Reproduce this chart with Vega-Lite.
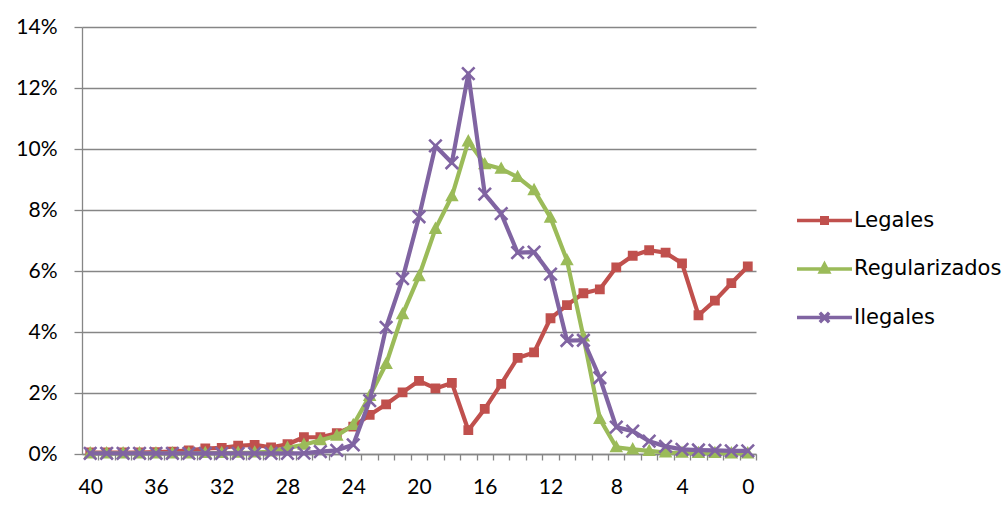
{
  "$schema": "https://vega.github.io/schema/vega-lite/v6.json",
  "autosize": {"type": "none"},
  "width": 674,
  "height": 427,
  "padding": {"left": 82, "top": 27, "right": 252, "bottom": 51},
  "background": "white",
  "config": {
    "view": {"stroke": null},
    "font": "Lato",
    "axis": {"labelFont": "Lato", "labelFontSize": 21, "labelColor": "black", "domainColor": "#868686", "tickColor": "#868686", "gridColor": "#868686", "domainWidth": 1.3, "tickWidth": 1.3, "gridWidth": 1.3, "title": null}
  },
  "data": {"values": [
    {"t":40,"s":"Legales","v":0.05},{"t":39,"s":"Legales","v":0.05},{"t":38,"s":"Legales","v":0.05},{"t":37,"s":"Legales","v":0.05},{"t":36,"s":"Legales","v":0.06},{"t":35,"s":"Legales","v":0.08},{"t":34,"s":"Legales","v":0.12},{"t":33,"s":"Legales","v":0.18},{"t":32,"s":"Legales","v":0.2},{"t":31,"s":"Legales","v":0.27},{"t":30,"s":"Legales","v":0.3},{"t":29,"s":"Legales","v":0.22},{"t":28,"s":"Legales","v":0.32},{"t":27,"s":"Legales","v":0.55},{"t":26,"s":"Legales","v":0.55},{"t":25,"s":"Legales","v":0.68},{"t":24,"s":"Legales","v":0.9},{"t":23,"s":"Legales","v":1.28},{"t":22,"s":"Legales","v":1.63},{"t":21,"s":"Legales","v":2.02},{"t":20,"s":"Legales","v":2.4},{"t":19,"s":"Legales","v":2.15},{"t":18,"s":"Legales","v":2.33},{"t":17,"s":"Legales","v":0.78},{"t":16,"s":"Legales","v":1.48},{"t":15,"s":"Legales","v":2.3},{"t":14,"s":"Legales","v":3.15},{"t":13,"s":"Legales","v":3.33},{"t":12,"s":"Legales","v":4.45},{"t":11,"s":"Legales","v":4.88},{"t":10,"s":"Legales","v":5.27},{"t":9,"s":"Legales","v":5.4},{"t":8,"s":"Legales","v":6.12},{"t":7,"s":"Legales","v":6.5},{"t":6,"s":"Legales","v":6.68},{"t":5,"s":"Legales","v":6.6},{"t":4,"s":"Legales","v":6.25},{"t":3,"s":"Legales","v":4.55},{"t":2,"s":"Legales","v":5.03},{"t":1,"s":"Legales","v":5.6},{"t":0,"s":"Legales","v":6.15},
    {"t":40,"s":"Regularizados","v":0.02},{"t":39,"s":"Regularizados","v":0.02},{"t":38,"s":"Regularizados","v":0.02},{"t":37,"s":"Regularizados","v":0.02},{"t":36,"s":"Regularizados","v":0.02},{"t":35,"s":"Regularizados","v":0.02},{"t":34,"s":"Regularizados","v":0.02},{"t":33,"s":"Regularizados","v":0.03},{"t":32,"s":"Regularizados","v":0.03},{"t":31,"s":"Regularizados","v":0.04},{"t":30,"s":"Regularizados","v":0.05},{"t":29,"s":"Regularizados","v":0.08},{"t":28,"s":"Regularizados","v":0.2},{"t":27,"s":"Regularizados","v":0.3},{"t":26,"s":"Regularizados","v":0.45},{"t":25,"s":"Regularizados","v":0.6},{"t":24,"s":"Regularizados","v":0.95},{"t":23,"s":"Regularizados","v":1.9},{"t":22,"s":"Regularizados","v":2.95},{"t":21,"s":"Regularizados","v":4.58},{"t":20,"s":"Regularizados","v":5.83},{"t":19,"s":"Regularizados","v":7.38},{"t":18,"s":"Regularizados","v":8.45},{"t":17,"s":"Regularizados","v":10.25},{"t":16,"s":"Regularizados","v":9.5},{"t":15,"s":"Regularizados","v":9.35},{"t":14,"s":"Regularizados","v":9.08},{"t":13,"s":"Regularizados","v":8.65},{"t":12,"s":"Regularizados","v":7.75},{"t":11,"s":"Regularizados","v":6.35},{"t":10,"s":"Regularizados","v":3.85},{"t":9,"s":"Regularizados","v":1.15},{"t":8,"s":"Regularizados","v":0.22},{"t":7,"s":"Regularizados","v":0.15},{"t":6,"s":"Regularizados","v":0.1},{"t":5,"s":"Regularizados","v":0.05},{"t":4,"s":"Regularizados","v":0.04},{"t":3,"s":"Regularizados","v":0.03},{"t":2,"s":"Regularizados","v":0.03},{"t":1,"s":"Regularizados","v":0.02},{"t":0,"s":"Regularizados","v":0.02},
    {"t":40,"s":"Ilegales","v":0.02},{"t":39,"s":"Ilegales","v":0.02},{"t":38,"s":"Ilegales","v":0.02},{"t":37,"s":"Ilegales","v":0.02},{"t":36,"s":"Ilegales","v":0.02},{"t":35,"s":"Ilegales","v":0.02},{"t":34,"s":"Ilegales","v":0.02},{"t":33,"s":"Ilegales","v":0.02},{"t":32,"s":"Ilegales","v":0.02},{"t":31,"s":"Ilegales","v":0.02},{"t":30,"s":"Ilegales","v":0.02},{"t":29,"s":"Ilegales","v":0.02},{"t":28,"s":"Ilegales","v":0.02},{"t":27,"s":"Ilegales","v":0.03},{"t":26,"s":"Ilegales","v":0.08},{"t":25,"s":"Ilegales","v":0.12},{"t":24,"s":"Ilegales","v":0.3},{"t":23,"s":"Ilegales","v":1.75},{"t":22,"s":"Ilegales","v":4.15},{"t":21,"s":"Ilegales","v":5.75},{"t":20,"s":"Ilegales","v":7.78},{"t":19,"s":"Ilegales","v":10.1},{"t":18,"s":"Ilegales","v":9.55},{"t":17,"s":"Ilegales","v":12.47},{"t":16,"s":"Ilegales","v":8.52},{"t":15,"s":"Ilegales","v":7.88},{"t":14,"s":"Ilegales","v":6.6},{"t":13,"s":"Ilegales","v":6.62},{"t":12,"s":"Ilegales","v":5.9},{"t":11,"s":"Ilegales","v":3.72},{"t":10,"s":"Ilegales","v":3.73},{"t":9,"s":"Ilegales","v":2.5},{"t":8,"s":"Ilegales","v":0.88},{"t":7,"s":"Ilegales","v":0.75},{"t":6,"s":"Ilegales","v":0.42},{"t":5,"s":"Ilegales","v":0.25},{"t":4,"s":"Ilegales","v":0.15},{"t":3,"s":"Ilegales","v":0.13},{"t":2,"s":"Ilegales","v":0.12},{"t":1,"s":"Ilegales","v":0.1},{"t":0,"s":"Ilegales","v":0.1}
  ]},
  "encoding": {
    "x": {"field": "t", "type": "quantitative",
      "scale": {"domain": [-0.5, 40.5], "reverse": true, "nice": false, "zero": false},
      "axis": {"values": [40,39,38,37,36,35,34,33,32,31,30,29,28,27,26,25,24,23,22,21,20,19,18,17,16,15,14,13,12,11,10,9,8,7,6,5,4,3,2,1,0],
        "labelExpr": "datum.value % 4 === 0 ? datum.label : ''", "labelOverlap": false, "labelFlush": false,
        "tickSize": 6, "tickOffset": 8.22, "labelOffset": -8.22, "labelPadding": 16, "grid": false}},
    "y": {"field": "v", "type": "quantitative",
      "scale": {"domain": [0, 14], "nice": false},
      "axis": {"values": [0,2,4,6,8,10,12,14], "labelExpr": "datum.value + '%'", "tickSize": 8, "labelPadding": 17, "grid": true}}
  },
  "layer": [
    {
      "transform": [{"filter": "datum.s === 'Legales'"}],
      "mark": {"type": "line", "strokeWidth": 4.2, "strokeJoin": "round", "strokeCap": "round"},
      "encoding": {
        "color": {"field": "s", "type": "nominal",
          "scale": {"domain": ["Legales", "Regularizados", "Ilegales"], "range": ["#C0504D", "#9BBB59", "#8064A2"]},
          "legend": {
            "title": null, "orient": "none", "legendX": 713, "legendY": 164, "padding": 0,
            "labelFont": "DejaVu Sans", "labelFontSize": 21, "labelColor": "black", "labelOffset": 0,
            "symbolSize": 3025, "rowPadding": 8.5, "symbolType": "stroke",
            "encode": {"symbols": {"update": {
              "shape": {"signal": "datum.value === 'Legales' ? 'M-1,0H1M-0.1,-0.1H0.1V0.1H-0.1Z' : datum.value === 'Regularizados' ? 'M-1,0H1M0,-0.17L0.15,0.11H-0.15Z' : 'M-1,0H1M-0.17,-0.17L0.17,0.17M-0.17,0.17L0.17,-0.17'"},
              "fill": {"signal": "scale('color', datum.value)"},
              "stroke": {"signal": "scale('color', datum.value)"},
              "strokeWidth": {"value": 3.5},
              "opacity": {"value": 1}
            }}}
          }}
      }
    },
    {
      "transform": [{"filter": "datum.s === 'Legales'"}],
      "mark": {"type": "point", "filled": true, "opacity": 1, "fill": "#C0504D", "stroke": "#C0504D", "strokeWidth": 1.8, "size": 100, "shape": "M-0.8,-0.8H0.8V0.8H-0.8Z"},
      "encoding": {}
    },
    {
      "transform": [{"filter": "datum.s === 'Regularizados'"}],
      "mark": {"type": "line", "strokeWidth": 4.2, "strokeJoin": "round", "strokeCap": "round"},
      "encoding": {"color": {"field": "s", "type": "nominal"}}
    },
    {
      "transform": [{"filter": "datum.s === 'Regularizados'"}],
      "mark": {"type": "point", "filled": true, "opacity": 1, "fill": "#9BBB59", "stroke": "#9BBB59", "strokeWidth": 1.5, "size": 100, "shape": "M0,-1.15L1.1,0.85H-1.1Z"},
      "encoding": {}
    },
    {
      "transform": [{"filter": "datum.s === 'Ilegales'"}],
      "mark": {"type": "line", "strokeWidth": 4.2, "strokeJoin": "round", "strokeCap": "round"},
      "encoding": {"color": {"field": "s", "type": "nominal"}}
    },
    {
      "transform": [{"filter": "datum.s === 'Ilegales'"}],
      "mark": {"type": "point", "filled": false, "opacity": 1, "fill": null, "stroke": "#8064A2", "strokeWidth": 2.6, "size": 100, "shape": "M-1.25,-1.25L1.25,1.25M-1.25,1.25L1.25,-1.25"},
      "encoding": {}
    }
  ]
}
